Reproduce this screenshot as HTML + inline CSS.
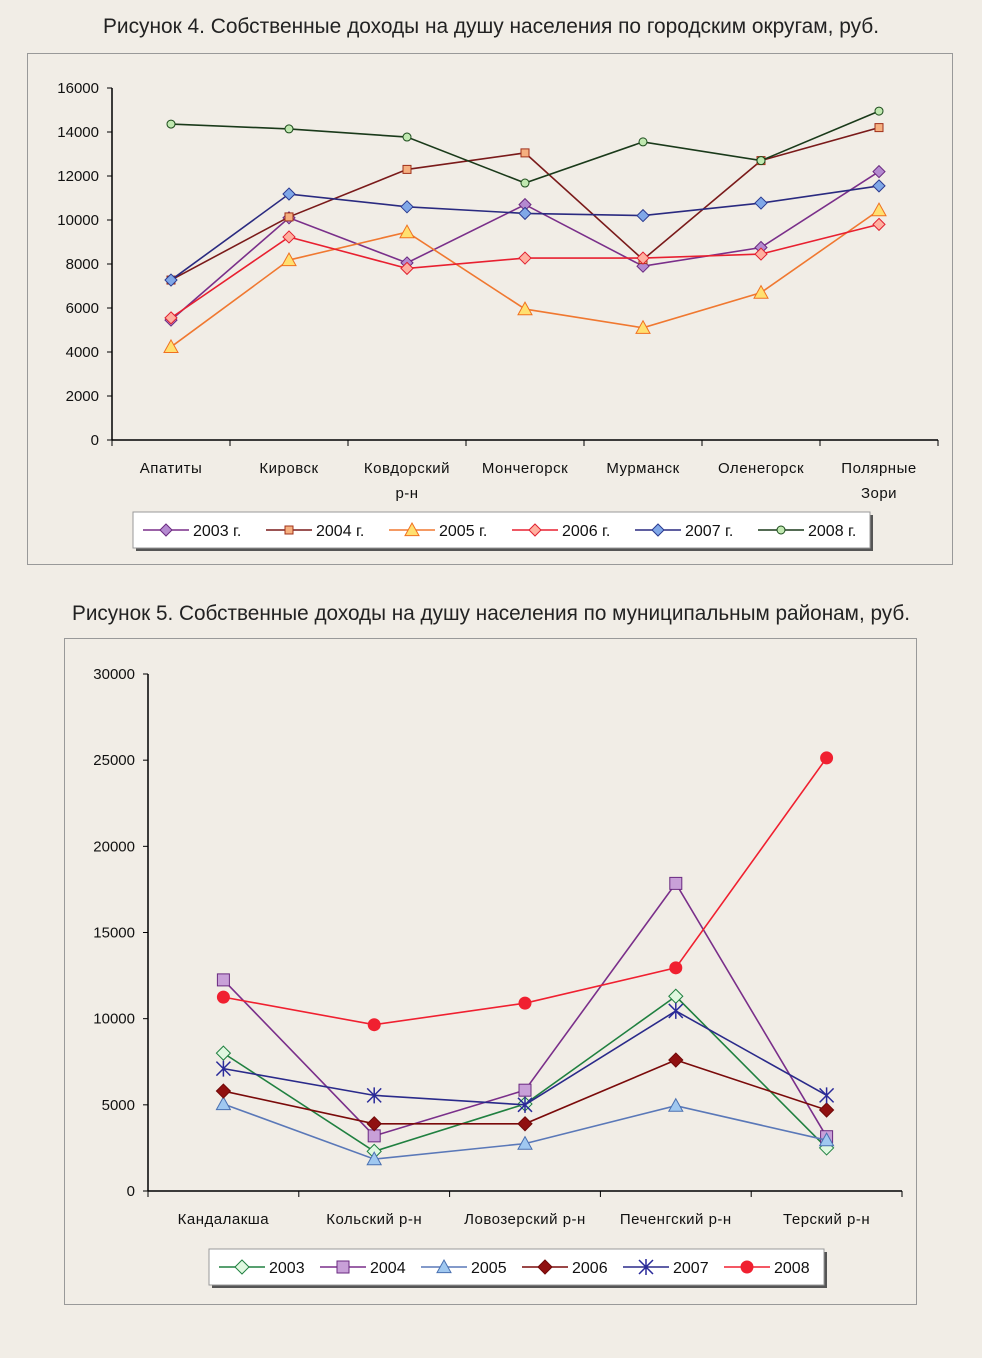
<!DOCTYPE html>
<html><head><meta charset="utf-8"><style>
body{margin:0;background:#f1ede6;}
svg{display:block;font-family:"Liberation Sans","DejaVu Sans",sans-serif;}
</style></head><body>
<svg id="s" width="982" height="1358" viewBox="0 0 982 1358">
<rect width="982" height="1358" fill="#f1ede6"/>
<text x="103" y="33" font-size="21" fill="#222" textLength="776" lengthAdjust="spacingAndGlyphs">Рисунок 4. Собственные доходы на душу населения по городским округам, руб.</text>
<rect x="27.5" y="53.5" width="925" height="511" fill="none" stroke="#999"/>
<text x="72" y="620" font-size="21" fill="#222" textLength="838" lengthAdjust="spacingAndGlyphs">Рисунок 5. Собственные доходы на душу населения по муниципальным районам, руб.</text>
<rect x="64.5" y="638.5" width="852" height="666" fill="none" stroke="#999"/>
<g id="c1"></g><g id="c2"></g>
</svg>
<script>
const cats1=["Апатиты","Кировск","Ковдорский|р-н","Мончегорск","Мурманск","Оленегорск","Полярные|Зори"];
const names1=["2003 г.","2004 г.","2005 г.","2006 г.","2007 г.","2008 г."];
const s1_2003=[5450,10100,8050,10700,7900,8750,12200];
const s1_2004=[7270,10140,12300,13050,8200,12700,14200];
const s1_2005=[4230,8180,9450,5950,5100,6700,10450];
const s1_2006=[5550,9230,7800,8270,8270,8450,9800];
const s1_2007=[7270,11180,10600,10300,10200,10770,11550];
const s1_2008=[14360,14140,13770,11680,13550,12700,14950];
const ticks1=[0,2000,4000,6000,8000,10000,12000,14000,16000];

const cats2=["Кандалакша","Кольский р-н","Ловозерский р-н","Печенгский р-н","Терский р-н"];
const names2=["2003","2004","2005","2006","2007","2008"];
const s2_2003=[8000,2300,5050,11300,2500];
const s2_2004=[12250,3200,5850,17850,3150];
const s2_2005=[5050,1850,2750,4950,2950];
const s2_2006=[5800,3900,3900,7600,4700];
const s2_2007=[7100,5550,5000,10450,5550];
const s2_2008=[11250,9650,10900,12950,25130];
const ticks2=[0,5000,10000,15000,20000,25000,30000];

const NS="http://www.w3.org/2000/svg";
function mk(p,t,a){const e=document.createElementNS(NS,t);for(const k in a)e.setAttribute(k,a[k]);p.appendChild(e);return e;}
function marker(g,type,x,y,stroke,fill,sz){
  let e;
  if(type==="diamond")e=mk(g,"polygon",{points:`${x},${y-sz} ${x+sz},${y} ${x},${y+sz} ${x-sz},${y}`,fill,stroke});
  else if(type==="square")e=mk(g,"rect",{x:x-sz+1,y:y-sz+1,width:2*sz-2,height:2*sz-2,fill,stroke});
  else if(type==="triangle")e=mk(g,"polygon",{points:`${x},${y-sz} ${x+sz},${y+sz*0.8} ${x-sz},${y+sz*0.8}`,fill,stroke});
  else if(type==="circle")e=mk(g,"circle",{cx:x,cy:y,r:sz-1,fill,stroke});
  else if(type==="star"){e=mk(g,"path",{d:`M${x-sz} ${y-sz}L${x+sz} ${y+sz}M${x-sz} ${y+sz}L${x+sz} ${y-sz}M${x} ${y-sz-1}V${y+sz+1}`,stroke,"stroke-width":1.5,fill:"none"});}
  
  
  return e;
}
function chart(gid,o){
  const g=document.getElementById(gid);
  const ymap=v=>o.y0-(v/o.max)*(o.y0-o.y1);
  const bw=(o.x1-o.x0)/o.cats.length;
  const xmap=i=>o.x0+bw*(i+0.5);
  mk(g,"line",{x1:o.x0,y1:o.y0,x2:o.x0,y2:o.y1,stroke:"#000","stroke-width":1.5});
  mk(g,"line",{x1:o.x0,y1:o.y0,x2:o.x1,y2:o.y0,stroke:"#000","stroke-width":1.5});
  o.ticks.forEach(t=>{const y=ymap(t);
    mk(g,"line",{x1:o.x0-5,y1:y,x2:o.x0,y2:y,stroke:"#000"});
    const tx=mk(g,"text",{x:o.x0-13,y:y+5,"text-anchor":"end","font-size":15,fill:"#111"});tx.textContent=t;
    
    });
  for(let i=0;i<=o.cats.length;i++){const x=o.x0+bw*i;mk(g,"line",{x1:x,y1:o.y0,x2:x,y2:o.y0+6,stroke:"#000"});}
  o.cats.forEach((c,i)=>{c.split("|").forEach((l,j)=>{const t=mk(g,"text",{x:xmap(i),y:o.y0+33+j*25,"text-anchor":"middle","font-size":15,fill:"#111","letter-spacing":"0.5"});t.textContent=l;
    
    });});
  o.series.forEach(s=>{
    const pts=s.v.map((v,i)=>xmap(i)+","+ymap(v)).join(" ");
    const pl=mk(g,"polyline",{points:pts,fill:"none",stroke:s.c,"stroke-width":1.6});
    
    
    s.v.forEach((v,i)=>marker(g,s.m,xmap(i),ymap(v),s.ms,s.f,s.sz));
  });
  const L=o.leg;
  mk(g,"rect",{x:L.x+3,y:L.y+3,width:L.w,height:L.h,fill:"#555"});
  const lr=mk(g,"rect",{x:L.x,y:L.y,width:L.w,height:L.h,fill:"#fff",stroke:"#999"});
  
  
  o.series.forEach((s,i)=>{const x=L.x+10+i*L.step,y=L.y+L.h/2;
    mk(g,"line",{x1:x,y1:y,x2:x+46,y2:y,stroke:s.c,"stroke-width":1.6});
    marker(g,s.m,x+23,y,s.ms,s.f,s.sz);
    const t=mk(g,"text",{x:x+50,y:y+6,"font-size":16,fill:"#111"});t.textContent=o.names[i];
    
    });
}
chart("c1",{x0:112,x1:938,y0:440,y1:88,max:16000,ticks:ticks1,cats:cats1,names:names1,
 leg:{x:133,y:512,w:737,h:36,step:123},
 series:[
 {v:s1_2003,c:"#7a2f8a",m:"diamond",ms:"#6a2a80",f:"#b48ad0",sz:6},
 {v:s1_2004,c:"#7a1a1a",m:"square",ms:"#a0301a",f:"#f5b080",sz:5},
 {v:s1_2005,c:"#f07830",m:"triangle",ms:"#f07020",f:"#ffe070",sz:7},
 {v:s1_2006,c:"#e82030",m:"diamond",ms:"#e02030",f:"#ffb0a0",sz:6},
 {v:s1_2007,c:"#2a2a80",m:"diamond",ms:"#2a3a90",f:"#80a8e8",sz:6},
 {v:s1_2008,c:"#1a3a1a",m:"circle",ms:"#1a4a1a",f:"#c0e8b0",sz:5}]});
chart("c2",{x0:148,x1:902,y0:1191,y1:674,max:30000,ticks:ticks2,cats:cats2,names:names2,
 leg:{x:209,y:1249,w:615,h:36,step:101},
 series:[
 {v:s2_2003,c:"#208040",m:"diamond",ms:"#208040",f:"#e0f8e0",sz:7},
 {v:s2_2004,c:"#7a2f8a",m:"square",ms:"#6a2a80",f:"#c8a0d8",sz:7},
 {v:s2_2005,c:"#5a78b8",m:"triangle",ms:"#4a70b0",f:"#a0c8f0",sz:7},
 {v:s2_2006,c:"#7a0a0a",m:"diamond",ms:"#700808",f:"#901010",sz:7},
 {v:s2_2007,c:"#2a2a8a",m:"star",ms:"#2a2a9a",f:"none",sz:7},
 {v:s2_2008,c:"#f02030",m:"circle",ms:"#f02030",f:"#f02030",sz:7}]});
</script>
</body></html>
